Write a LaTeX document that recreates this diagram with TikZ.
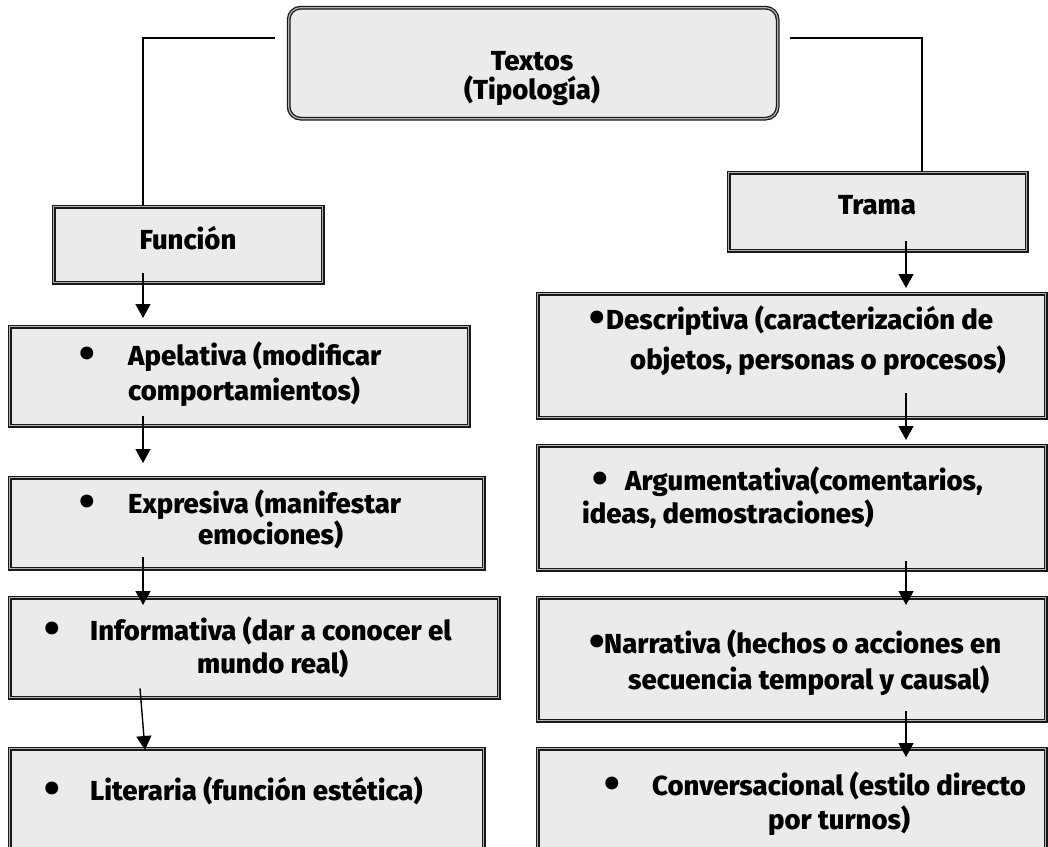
\documentclass[tikz,border=0pt]{standalone}
\usepackage{fontspec}
\IfFontExistsTF{Fira Sans Heavy}{\setmainfont{Fira Sans Heavy}\def\fsz{27.5}}{%
  \IfFontExistsTF{Fira Sans ExtraBold}{\setmainfont{Fira Sans ExtraBold}\def\fsz{27.5}}{%
    \IfFontExistsTF{Lato Black}{\setmainfont{Lato Black}\def\fsz{26}}{%
      \setmainfont{Lato}[UprightFont=* Bold]\def\fsz{28}}}}
\newcommand{\bigdot}{\raisebox{-0.14em}{\scalebox{1.6}{\textbullet}}}
\usetikzlibrary{arrows.meta,calc}
\begin{document}
\begin{tikzpicture}[x=1pt,y=-1pt,
  box/.style={draw=black!90, line width=1.3pt, double=black!30, double distance=1.2pt,
              fill=black!8, inner sep=0pt, anchor=north west},
  txt/.style={font=\fontsize{\fsz}{\fsz}\selectfont, inner sep=0pt, anchor=base west},
  ctxt/.style={txt, anchor=base},
  conn/.style={line width=1.4pt, black},
  arr/.style={conn, -{Triangle[width=15pt,length=14pt]}}]
\useasboundingbox (0,0) rectangle (1048,846);
\clip (0,0) rectangle (1048,846);
% boxes
\node[box, rounded corners=12pt, minimum width=489pt, minimum height=111pt] (top) at (288,7) {};
\node[box, minimum width=269pt, minimum height=76pt] (fun) at (53,206) {};
\node[box, minimum width=298pt, minimum height=78pt] (tra) at (728,172) {};
\node[box, minimum width=459pt, minimum height=99pt] (apl) at (9,326) {};
\node[box, minimum width=474pt, minimum height=91pt] (exp) at (9,477) {};
\node[box, minimum width=489pt, minimum height=100pt] (inf) at (9,597) {};
\node[box, minimum width=474pt, minimum height=120pt] (lit) at (9,748) {};
\node[box, minimum width=508pt, minimum height=124pt] (des) at (537,293) {};
\node[box, minimum width=508pt, minimum height=124pt] (arg) at (537,445) {};
\node[box, minimum width=508pt, minimum height=123pt] (nar) at (537,597) {};
\node[box, minimum width=508pt, minimum height=120pt] (con) at (537,748) {};
% texts
\node[ctxt] (top-a) at (532,70) {Textos};
\node[ctxt] (top-b) at (532,99) {(Tipología)};
\node[ctxt] (fun-a) at (188,249) {Función};
\node[ctxt] (tra-a) at (877,214) {Trama};
\node[ctxt] (apl-b) at (87,365) {\bigdot};
\node[txt] (apl-a) at (128,365) {Apelativa (modificar};
\node[txt] (apl-c) at (128,400) {comportamientos)};
\node[ctxt] (exp-b) at (87,513) {\bigdot};
\node[txt] (exp-a) at (128,513) {Expresiva (manifestar};
\node[txt] (exp-c) at (198,544) {emociones)};
\node[ctxt] (inf-b) at (52,640) {\bigdot};
\node[txt] (inf-a) at (90,640) {Informativa (dar a conocer el};
\node[txt] (inf-c) at (197,673) {mundo real)};
\node[ctxt] (lit-b) at (52,800) {\bigdot};
\node[txt] (lit-a) at (90,800) {Literaria (función estética)};
\node[txt] (des-b) at (589,329) {\bigdot};
\node[txt] (des-a) at (606,329) {Descriptiva (caracterización de};
\node[txt] (des-c) at (630,369) {objetos, personas o procesos)};
\node[ctxt] (arg-b) at (600,490) {\bigdot};
\node[txt] (arg-a) at (625,490) {Argumentativa(comentarios,};
\node[txt] (arg-c) at (582,523) {ideas, demostraciones)};
\node[txt] (nar-b) at (589,653) {\bigdot};
\node[txt] (nar-a) at (604,653) {Narrativa (hechos o acciones en};
\node[txt] (nar-c) at (628,689) {secuencia temporal y causal)};
\node[ctxt] (con-b) at (612,795) {\bigdot};
\node[txt] (con-a) at (652,795) {Conversacional (estilo directo};
\node[txt] (con-c) at (768,829) {por turnos)};
% connectors
\coordinate (L) at (143,0);
\coordinate (R) at (906,0);
\draw[conn] ([xshift=-13pt,yshift=-31pt]top.north west) -| (fun.north -| L);
\draw[conn] ([xshift=12pt,yshift=-31pt]top.north east) -| ([xshift=194pt]tra.north west);
\draw[arr] ($(fun.south -| L)+(0,-10)$) -- ($(apl.north -| L)+(0,-8)$);
\draw[arr] ($(apl.south -| L)+(0,-10)$) -- ($(exp.north -| L)+(0,-14)$);
\draw[arr] ($(exp.south -| L)+(0,-12)$) -- ($(inf.north -| L)+(0,8)$);
\draw[arr] ($(inf.south -| L)+(-3,-10)$) -- ($(lit.north -| L)+(2,2)$);
\draw[arr] ($(tra.south -| R)+(0,-10)$) -- ($(des.north -| R)+(0,-5)$);
\draw[arr] ($(des.south -| R)+(0,-25)$) -- ($(arg.north -| R)+(0,-5)$);
\draw[arr] ($(arg.south -| R)+(0,-9)$) -- ($(nar.north -| R)+(0,8)$);
\draw[arr] ($(nar.south -| R)+(0,-10)$) -- ($(con.north -| R)+(0,9)$);
\end{tikzpicture}
\end{document}
